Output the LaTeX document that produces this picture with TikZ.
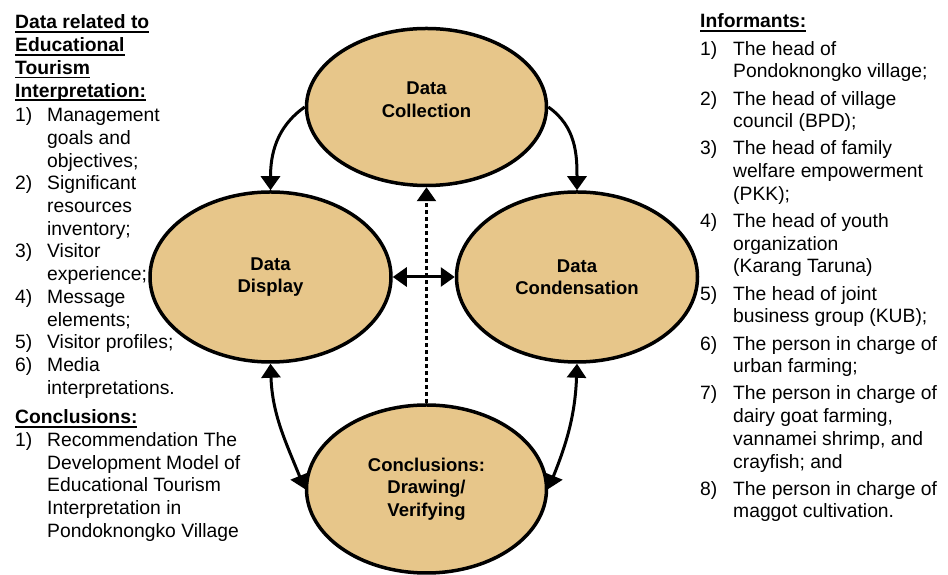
\documentclass[tikz,border=0pt]{standalone}
\usepackage{fontspec}
\setmainfont{Liberation Sans}
\usepackage{xcolor}
\usepackage{tikz}
\usetikzlibrary{shapes.geometric, arrows.meta, positioning}

\definecolor{stagefill}{RGB}{231,198,138}
\newcommand{\hdline}[1]{\setbox0\hbox{\bfseries #1}\rlap{\rule[-4pt]{\wd0}{1.6pt}}\box0}

\begin{document}
\begin{tikzpicture}[x=1pt, y=1pt, >={Triangle[width=19pt,length=14pt]},
    stage/.style={draw, ellipse, line width=3.5pt, fill=stagefill, inner sep=0pt, align=center,
        font=\bfseries\fontsize{18.5}{22.5}\selectfont},
    info/.style={inner sep=0pt, anchor=base west, font=\fontsize{19.3}{22.7}\selectfont},
    link/.style={line width=3pt}]
    \useasboundingbox (0,0) rectangle (948,575);

    \node [stage, minimum width=240pt, minimum height=157pt, text depth=15pt] (coll) at (426.5,468) {Data\\Collection};
    \node [stage, minimum width=241pt, minimum height=170pt] (disp) at (270.5,298) {Data\\Display};
    \node [stage, minimum width=241pt, minimum height=170pt, right=62pt of disp] (cond) {Data\\Condensation};
    \node [stage, minimum width=240pt, minimum height=168pt] (conc) at (426.5,86) {Conclusions:\\Drawing/\\Verifying};

    \node [info] (datalist) at (15,546) {\begin{tabular}[t]{@{}p{32pt}@{}l@{}}
        \multicolumn{2}{@{}l@{}}{\hdline{Data related to}}\\
        \multicolumn{2}{@{}l@{}}{\hdline{Educational}}\\
        \multicolumn{2}{@{}l@{}}{\hdline{Tourism}}\\
        \multicolumn{2}{@{}l@{}}{\hdline{Interpretation:}}\\[2pt]
        1) & Management\\
           & goals and\\
           & objectives;\\
        2) & Significant\\
           & resources\\
           & inventory;\\
        3) & Visitor\\
           & experience;\\
        4) & Message\\
           & elements;\\
        5) & Visitor profiles;\\
        6) & Media\\
           & interpretations.\\[7pt]
        \multicolumn{2}{@{}l@{}}{\hdline{Conclusions:}}\\
        1) & Recommendation The\\
           & Development Model of\\
           & Educational Tourism\\
           & Interpretation in\\
           & Pondoknongko Village
    \end{tabular}};

    \node [info] (informants) at (700,547) {\begin{tabular}[t]{@{}p{33pt}@{}l@{}}
        \multicolumn{2}{@{}l@{}}{\hdline{Informants:}}\\[4.5pt]
        1) & The head of\\
           & Pondoknongko village;\\[4.5pt]
        2) & The head of village\\
           & council (BPD);\\[4.5pt]
        3) & The head of family\\
           & welfare empowerment\\
           & (PKK);\\[4.5pt]
        4) & The head of youth\\
           & organization\\
           & (Karang Taruna)\\[4.5pt]
        5) & The head of joint\\
           & business group (KUB);\\[4.5pt]
        6) & The person in charge of\\
           & urban farming;\\[4.5pt]
        7) & The person in charge of\\
           & dairy goat farming,\\
           & vannamei shrimp, and\\
           & crayfish; and\\[4.5pt]
        8) & The person in charge of\\
           & maggot cultivation.
    \end{tabular}};

    \draw [->, link] (coll.west) to[out=215, in=90] (disp.north);
    \draw [->, link] (coll.east) to[out=-35, in=90] (cond.north);
    \draw [->, link, line width=2.5pt, dash pattern=on 4.5pt off 2.5pt] (conc.north) -- (coll.south);
    \draw [<->, link] (disp.east) -- (cond.west);
    \draw [<->, link] (disp.south) to[out=-88, in=112] (conc.west);
    \draw [<->, link] (cond.south) to[out=-92, in=68] (conc.east);
\end{tikzpicture}
\end{document}
